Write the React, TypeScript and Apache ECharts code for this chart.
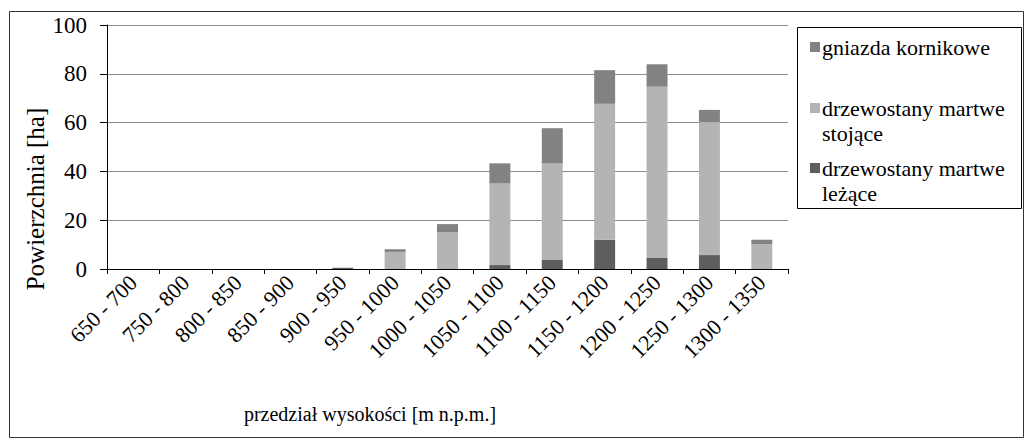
import React, { useEffect, useRef } from "react";
import * as echarts from "echarts";

const categories = [
  "650 - 700",
  "750 - 800",
  "800 - 850",
  "850 - 900",
  "900 - 950",
  "950 - 1000",
  "1000 - 1050",
  "1050 - 1100",
  "1100 - 1150",
  "1150 - 1200",
  "1200 - 1250",
  "1250 - 1300",
  "1300 - 1350",
];
const lezace = [0, 0, 0, 0, 0.5, 0, 0, 1.6, 3.9, 12.0, 4.5, 5.7, 0];
const stojace = [0, 0, 0, 0, 0, 7.0, 15.0, 33.6, 39.5, 55.7, 70.2, 54.5, 10.2];
const gniazda = [0, 0, 0, 0, 0, 1.1, 3.4, 8.1, 14.3, 13.8, 9.2, 5.0, 1.8];
const yTicks = [0, 20, 40, 60, 80, 100];

const seriesNames = ["gniazda kornikowe", "drzewostany martwe\nstojące", "drzewostany martwe\nleżące"];
const colors = { gniazda: "#828282", stojace: "#b4b4b4", lezace: "#5e5e5e" };

const FONT = "'Liberation Serif', 'Times New Roman', serif";

export default function App() {
  const ref = useRef<HTMLDivElement>(null);
  useEffect(() => {
    const chart = echarts.init(ref.current!, null, { renderer: "svg" });
    const legendItems = [
      { name: seriesNames[0], color: colors.gniazda, y: 47 },
      { name: seriesNames[1], color: colors.stojace, y: 108 },
      { name: seriesNames[2], color: colors.lezace, y: 168 },
    ];
    const graphics: any[] = [
      {
        type: "rect",
        shape: { x: 9.5, y: 11.5, width: 1014, height: 426 },
        style: { fill: "none", stroke: "#333", lineWidth: 1 },
        silent: true,
      },
      {
        type: "rect",
        shape: { x: 797.5, y: 27.5, width: 224, height: 181 },
        style: { fill: "#fff", stroke: "#000", lineWidth: 1 },
        silent: true,
      },
      {
        type: "text",
        x: 35,
        y: 199,
        rotation: Math.PI / 2,
        style: {
          text: "Powierzchnia [ha]",
          fontFamily: FONT,
          fontSize: 25,
          fill: "#000",
          align: "center",
          verticalAlign: "middle",
        },
      },
      {
        type: "text",
        x: 370,
        y: 414,
        style: {
          text: "przedział wysokości [m n.p.m.]",
          fontFamily: FONT,
          fontSize: 20,
          fill: "#000",
          align: "center",
          verticalAlign: "middle",
        },
      },
    ];
    legendItems.forEach((it) => {
      graphics.push({
        type: "rect",
        shape: { x: 810, y: it.y - 5, width: 10, height: 10 },
        style: { fill: it.color },
        silent: true,
      });
      graphics.push({
        type: "text",
        x: 822,
        y: it.y - 12,
        style: {
          text: it.name,
          fontFamily: FONT,
          fontSize: 22,
          lineHeight: 25,
          fill: "#000",
          align: "left",
          verticalAlign: "top",
        },
      });
    });

    chart.setOption({
      animation: false,
      backgroundColor: "#fff",
      textStyle: { fontFamily: FONT },
      grid: { left: 107, top: 25, right: 237, bottom: 170, containLabel: false },
      xAxis: {
        type: "category",
        data: categories,
        axisLine: { show: true, lineStyle: { color: "#000", width: 1 } },
        axisTick: { show: true, length: 5, alignWithLabel: false, lineStyle: { color: "#000" } },
        axisLabel: {
          rotate: 45,
          interval: 0,
          margin: 10,
          fontSize: 22,
          color: "#000",
          fontFamily: FONT,
        },
        splitLine: { show: false },
      },
      yAxis: {
        type: "value",
        min: 0,
        max: 100,
        interval: 20,
        axisLine: { show: true, lineStyle: { color: "#000", width: 1 } },
        axisTick: { show: true, length: 7, lineStyle: { color: "#000" } },
        axisLabel: {
          fontSize: 23,
          color: "#000",
          margin: 20,
          fontFamily: FONT,
          formatter: (v: number) => (yTicks.includes(v) ? String(v) : ""),
        },
        splitLine: { show: true, lineStyle: { color: "#8c8c8c", width: 1 } },
      },
      series: [
        {
          name: seriesNames[2],
          type: "bar",
          stack: "total",
          data: lezace,
          barWidth: "40%",
          itemStyle: { color: colors.lezace },
        },
        {
          name: seriesNames[1],
          type: "bar",
          stack: "total",
          data: stojace,
          barWidth: "40%",
          itemStyle: { color: colors.stojace },
        },
        {
          name: seriesNames[0],
          type: "bar",
          stack: "total",
          data: gniazda,
          barWidth: "40%",
          itemStyle: { color: colors.gniazda },
        },
      ],
      graphic: graphics,
    });
    return () => chart.dispose();
  }, []);
  return (
    <div
      ref={ref}
      style={{ position: "fixed", left: 0, top: 0, width: 1025, height: 439, background: "#fff" }}
    />
  );
}
